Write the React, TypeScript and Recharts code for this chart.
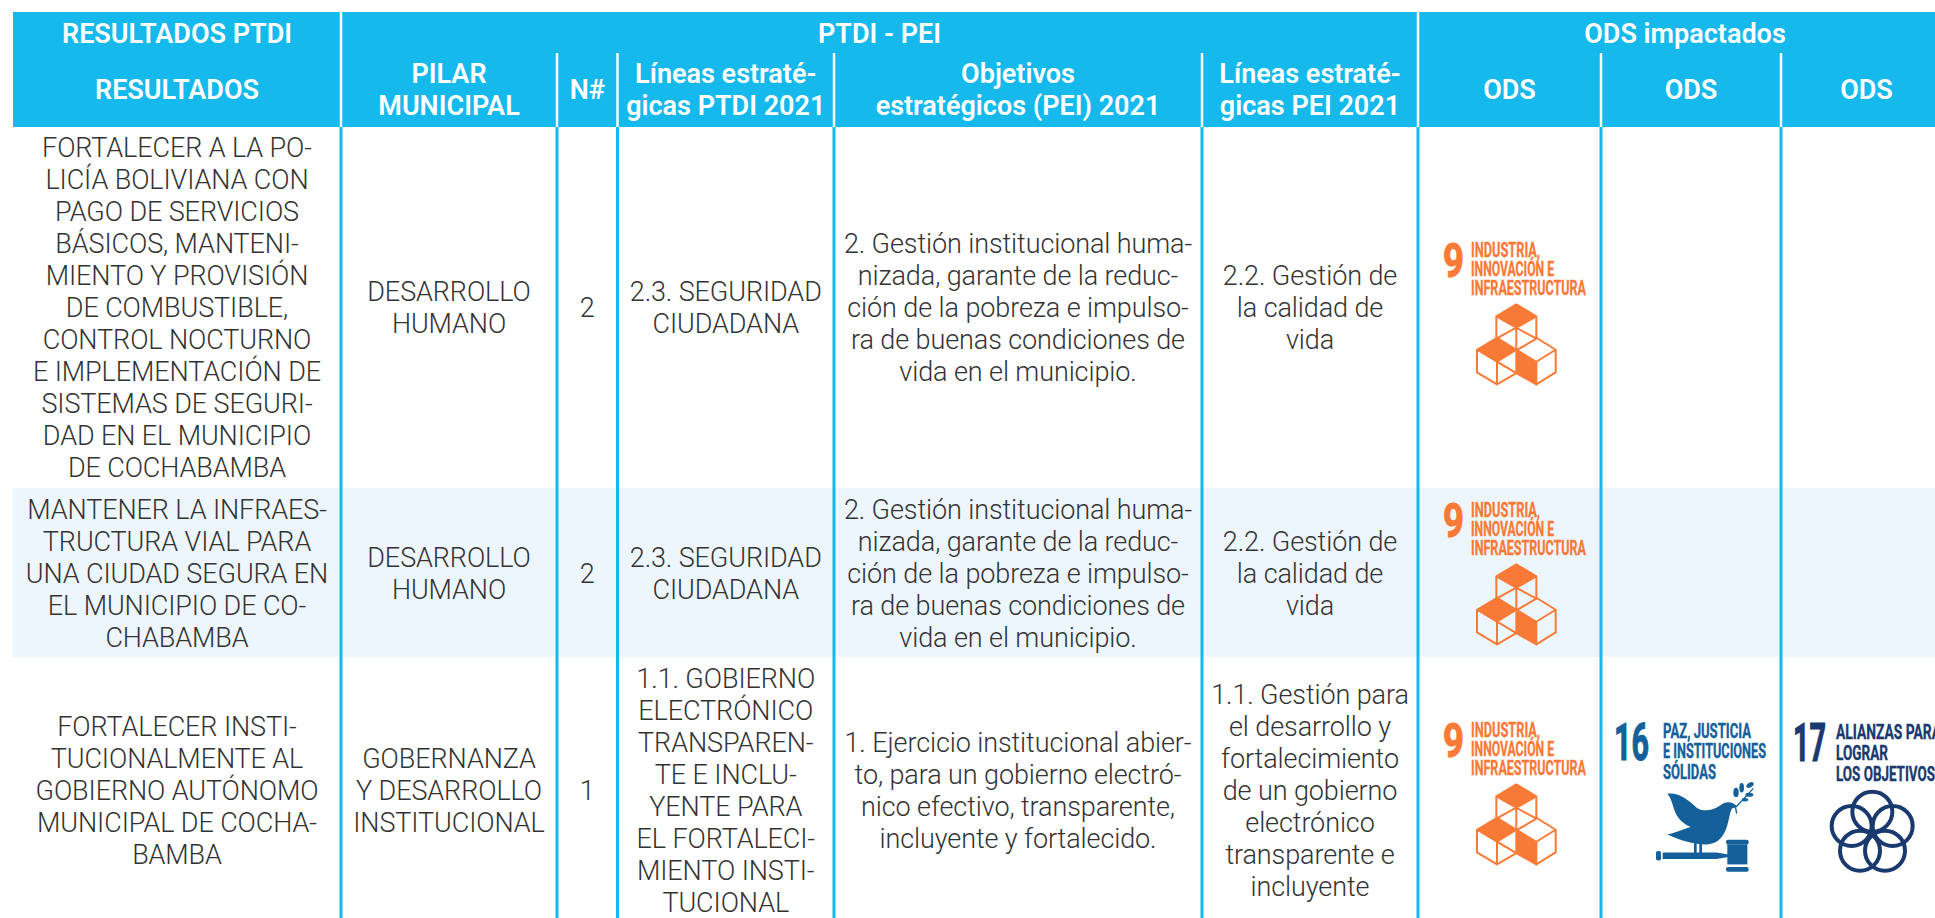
import React from 'react';
import { ScatterChart, Scatter, XAxis, YAxis, ReferenceArea, ReferenceLine } from 'recharts';

// table content
const groupHeaders = ['RESULTADOS PTDI', 'PTDI - PEI', 'ODS impactados'];
const columnHeaders = [
    ['RESULTADOS'],
    ['PILAR', 'MUNICIPAL'],
    ['N#'],
    ['Líneas estraté-', 'gicas PTDI 2021'],
    ['Objetivos', 'estratégicos (PEI) 2021'],
    ['Líneas estraté-', 'gicas PEI 2021'],
    ['ODS'],
    ['ODS'],
    ['ODS'],
];

const resultados = [
    ['FORTALECER A LA PO-', 'LICÍA BOLIVIANA CON', 'PAGO DE SERVICIOS', 'BÁSICOS, MANTENI-', 'MIENTO Y PROVISIÓN', 'DE COMBUSTIBLE,', 'CONTROL NOCTURNO', 'E IMPLEMENTACIÓN DE', 'SISTEMAS DE SEGURI-', 'DAD EN EL MUNICIPIO', 'DE COCHABAMBA'],
    ['MANTENER LA INFRAES-', 'TRUCTURA VIAL PARA', 'UNA CIUDAD SEGURA EN', 'EL MUNICIPIO DE CO-', 'CHABAMBA'],
    ['FORTALECER INSTI-', 'TUCIONALMENTE AL', 'GOBIERNO AUTÓNOMO', 'MUNICIPAL DE COCHA-', 'BAMBA'],
];
const pilares = [
    ['DESARROLLO', 'HUMANO'],
    ['DESARROLLO', 'HUMANO'],
    ['GOBERNANZA', 'Y DESARROLLO', 'INSTITUCIONAL'],
];
const numeros = [['2'], ['2'], ['1']];
const lineasPtdi = [
    ['2.3. SEGURIDAD', 'CIUDADANA'],
    ['2.3. SEGURIDAD', 'CIUDADANA'],
    ['1.1. GOBIERNO', 'ELECTRÓNICO', 'TRANSPAREN-', 'TE E INCLU-', 'YENTE PARA', 'EL FORTALECI-', 'MIENTO INSTI-', 'TUCIONAL'],
];
const objetivos = [
    ['2. Gestión institucional huma-', 'nizada, garante de la reduc-', 'ción de la pobreza e impulso-', 'ra de buenas condiciones de', 'vida en el municipio.'],
    ['2. Gestión institucional huma-', 'nizada, garante de la reduc-', 'ción de la pobreza e impulso-', 'ra de buenas condiciones de', 'vida en el municipio.'],
    ['1. Ejercicio institucional abier-', 'to, para un gobierno electró-', 'nico efectivo, transparente,', 'incluyente y fortalecido.'],
];
const lineasPei = [
    ['2.2. Gestión de', 'la calidad de', 'vida'],
    ['2.2. Gestión de', 'la calidad de', 'vida'],
    ['1.1. Gestión para', 'el desarrollo y', 'fortalecimiento', 'de un gobierno', 'electrónico', 'transparente e', 'incluyente'],
];
const odsPorFila = [[9], [9], [9, 16, 17]];

// table layout, in the units of the two hidden axes
const columnEdges = [13, 341, 557, 617.5, 834, 1202, 1418, 1601, 1781, 1952];
const headerEdges = [12, 53, 127];
const rowEdges = [127, 488, 657, 918];
const rowCenters = [308, 574, 791];
const odsTops = [243, 503, 723];
const groupSpans = [[0, 1], [1, 6], [6, 9]];

const BLUE = '#15b9ec';
const BAND = '#eef6fd';
const INK = '#333';
const WIDTH = 1935;
const HEIGHT = 918;
const FONT = 'Roboto, sans-serif';

const center = (i: number) => (columnEdges[i] + columnEdges[i + 1]) / 2;

const bodyColumns = [resultados, pilares, numeros, lineasPtdi, objetivos, lineasPei];

const headerCells = [
    ...groupHeaders.map((h, i) => ({
        x: (columnEdges[groupSpans[i][0]] + columnEdges[groupSpans[i][1]]) / 2,
        y: 34,
        lines: [h],
    })),
    ...columnHeaders.map((lines, i) => ({ x: center(i), y: 90, lines })),
];

const bodyCells = bodyColumns.flatMap((col, c) =>
    col.map((lines, r) => ({ x: center(c), y: rowCenters[r], lines }))
);

const odsCells = odsPorFila.flatMap((goals, r) =>
    goals.map((goal, i) => ({ x: columnEdges[6 + i], y: odsTops[r], goal }))
);

const TextBlock = ({ cx, cy, payload, size, weight, fill, spacing }: any) => (
    <g>
        {payload.lines.map((line: string, i: number) => (
            <text
                key={i}
                x={cx}
                y={cy - (payload.lines.length * 32) / 2 + 32 * i + 25}
                textAnchor="middle"
                fontFamily={FONT}
                fontSize={size}
                fontWeight={weight}
                letterSpacing={spacing}
                fill={fill}
            >
                {line}
            </text>
        ))}
    </g>
);

// the three ODS marks: number, title and pictogram, all relative to the top left of the column
const GOALS: any = {
    9: {
        color: '#f97a36',
        numX: 25,
        numW: 21,
        numH: 34,
        num: '9',
        textX: 53,
        baselines: [14, 33, 52],
        titles: [['INDUSTRIA,', 69], ['INNOVACIÓN E', 83], ['INFRAESTRUCTURA', 115]],
    },
    16: {
        color: '#14609a',
        numX: 13,
        numW: 35,
        numH: 37,
        num: '16',
        textX: 62,
        baselines: [15, 35, 56],
        titles: [['PAZ, JUSTICIA', 88], ['E INSTITUCIONES', 103], ['SÓLIDAS', 53]],
    },
    17: {
        color: '#19396f',
        numX: 12,
        numW: 33,
        numH: 38,
        num: '17',
        textX: 55,
        baselines: [16, 37, 58],
        titles: [['ALIANZAS PARA', 105], ['LOGRAR', 52], ['LOS OBJETIVOS', 99]],
    },
};

const CubesIcon = ({ color }: any) => (
    <g stroke={color} strokeWidth={6} fill="none" strokeLinejoin="round">
        <path d="M295 252L355 288L295 322L235 288Z" fill={color} />
        <path d="M235 288V355L295 390L355 355V288M295 322V390M235 355L295 322L355 355" />
        <path d="M237 352L295 388L237 424L177 388Z" fill={color} />
        <path d="M177 388V456L237 492L295 458M237 424V492M237 424L295 458" />
        <path d="M295 388L355 424V492L295 458Z" fill={color} />
        <path d="M355 352L413 388L355 424M413 388V456L355 492" />
    </g>
);

const DoveIcon = ({ color }: any) => (
    <g fill={color}>
        <path d="M742 280C780 276 805 300 830 322C850 336 880 330 900 315C920 300 938 305 952 318L935 325C925 350 925 385 905 410C888 432 860 436 830 430C800 425 770 415 742 402C770 398 790 385 812 380C780 368 765 340 760 320C755 300 750 290 742 280Z" />
        <rect x={822} y={428} width={8} height={34} />
        <rect x={838} y={428} width={8} height={34} />
        <rect x={708} y={452} width={15} height={28} rx={6} />
        <path d="M728 456H890L925 462V470L890 476H728Z" />
        <rect x={922} y={432} width={60} height={60} />
        <rect x={918} y={418} width={68} height={14} rx={6} />
        <rect x={918} y={500} width={68} height={14} rx={6} />
        <path d="M948 320L1000 264" stroke={color} strokeWidth={4} fill="none" />
        <path d="M950 340L946 318" stroke={color} strokeWidth={4} fill="none" />
        <ellipse cx={948} cy={276} rx={8} ry={14} />
        <ellipse cx={965} cy={262} rx={7} ry={14} />
        <ellipse cx={990} cy={254} rx={12} ry={7} transform="rotate(-30 990 254)" />
        <ellipse cx={988} cy={283} rx={12} ry={6} />
        <ellipse cx={975} cy={298} rx={10} ry={5} />
    </g>
);

const RingsIcon = ({ color }: any) => (
    <g stroke={color} strokeWidth={12} fill="none">
        <circle cx={337} cy={365} r={60} />
        <circle cx={275} cy={408} r={60} />
        <circle cx={398} cy={408} r={60} />
        <circle cx={300} cy={482} r={60} />
        <circle cx={375} cy={482} r={60} />
    </g>
);

const OdsMark = ({ cx, cy, payload }: any) => {
    const g = GOALS[payload.goal];
    const titleX = cx + g.textX;
    return (
        <g>
            <text
                x={cx + g.numX}
                y={cy + g.numH}
                fontFamily={FONT}
                fontWeight={700}
                fontSize={g.numH / 0.711}
                fill={g.color}
                stroke={g.color}
                strokeWidth={1.2}
                textLength={g.numW}
                lengthAdjust="spacingAndGlyphs"
            >
                {g.num}
            </text>
            {g.titles.map(([t, w]: any, i: number) => (
                <text
                    key={t}
                    x={titleX}
                    y={cy + g.baselines[i]}
                    fontFamily={FONT}
                    fontWeight={700}
                    fontSize={20}
                    fill={g.color}
                    stroke={g.color}
                    strokeWidth={0.35}
                    textLength={w}
                    lengthAdjust="spacingAndGlyphs"
                >
                    {t}
                </text>
            ))}
            {payload.goal === 9 && (
                <g transform={`translate(${cx} ${cy - 22.6}) scale(${1 / 3})`}>
                    <CubesIcon color={g.color} />
                </g>
            )}
            {payload.goal === 16 && (
                <g transform={`translate(${cx - 181} ${cy - 22.6}) scale(${1 / 3})`}>
                    <DoveIcon color={g.color} />
                </g>
            )}
            {payload.goal === 17 && (
                <g transform={`translate(${cx - 21} ${cy - 33}) scale(${1 / 3})`}>
                    <RingsIcon color={g.color} />
                </g>
            )}
        </g>
    );
};

export default function App() {
    return (
        <div style={{ position: 'absolute', left: 0, top: 0, width: WIDTH, height: HEIGHT, background: '#fff' }}>
            <ScatterChart width={WIDTH} height={HEIGHT} margin={{ top: 0, right: 0, bottom: 0, left: 0 }}>
                <XAxis type="number" dataKey="x" domain={[0, WIDTH]} hide />
                <YAxis type="number" dataKey="y" domain={[0, HEIGHT]} reversed hide />

                <ReferenceArea x1={columnEdges[0]} x2={WIDTH} y1={headerEdges[0]} y2={headerEdges[2]} fill={BLUE} fillOpacity={1} stroke="none" />
                <ReferenceArea x1={columnEdges[0]} x2={WIDTH} y1={rowEdges[1]} y2={rowEdges[2]} fill={BAND} fillOpacity={1} stroke="none" />

                {columnEdges.slice(1, 9).map((x) => (
                    <ReferenceLine key={`body-${x}`} segment={[{ x, y: rowEdges[0] }, { x, y: rowEdges[3] }]} stroke={BLUE} strokeWidth={3} />
                ))}
                {columnEdges.slice(1, 9).map((x, i) => {
                    const isGroupEdge = i === 0 || i === 5;
                    return (
                        <ReferenceLine
                            key={`head-${x}`}
                            segment={[{ x, y: isGroupEdge ? headerEdges[0] : headerEdges[1] }, { x, y: headerEdges[2] }]}
                            stroke="#fff"
                            strokeWidth={2.5}
                        />
                    );
                })}

                <Scatter data={headerCells} isAnimationActive={false} shape={(p: any) => <TextBlock {...p} size={27} weight={600} spacing={0} fill="#fff" />} />
                <Scatter data={bodyCells} isAnimationActive={false} shape={(p: any) => <TextBlock {...p} size={27} weight={300} spacing={-0.1} fill={INK} />} />
                <Scatter data={odsCells} isAnimationActive={false} shape={(p: any) => <OdsMark {...p} />} />
            </ScatterChart>
        </div>
    );
}
